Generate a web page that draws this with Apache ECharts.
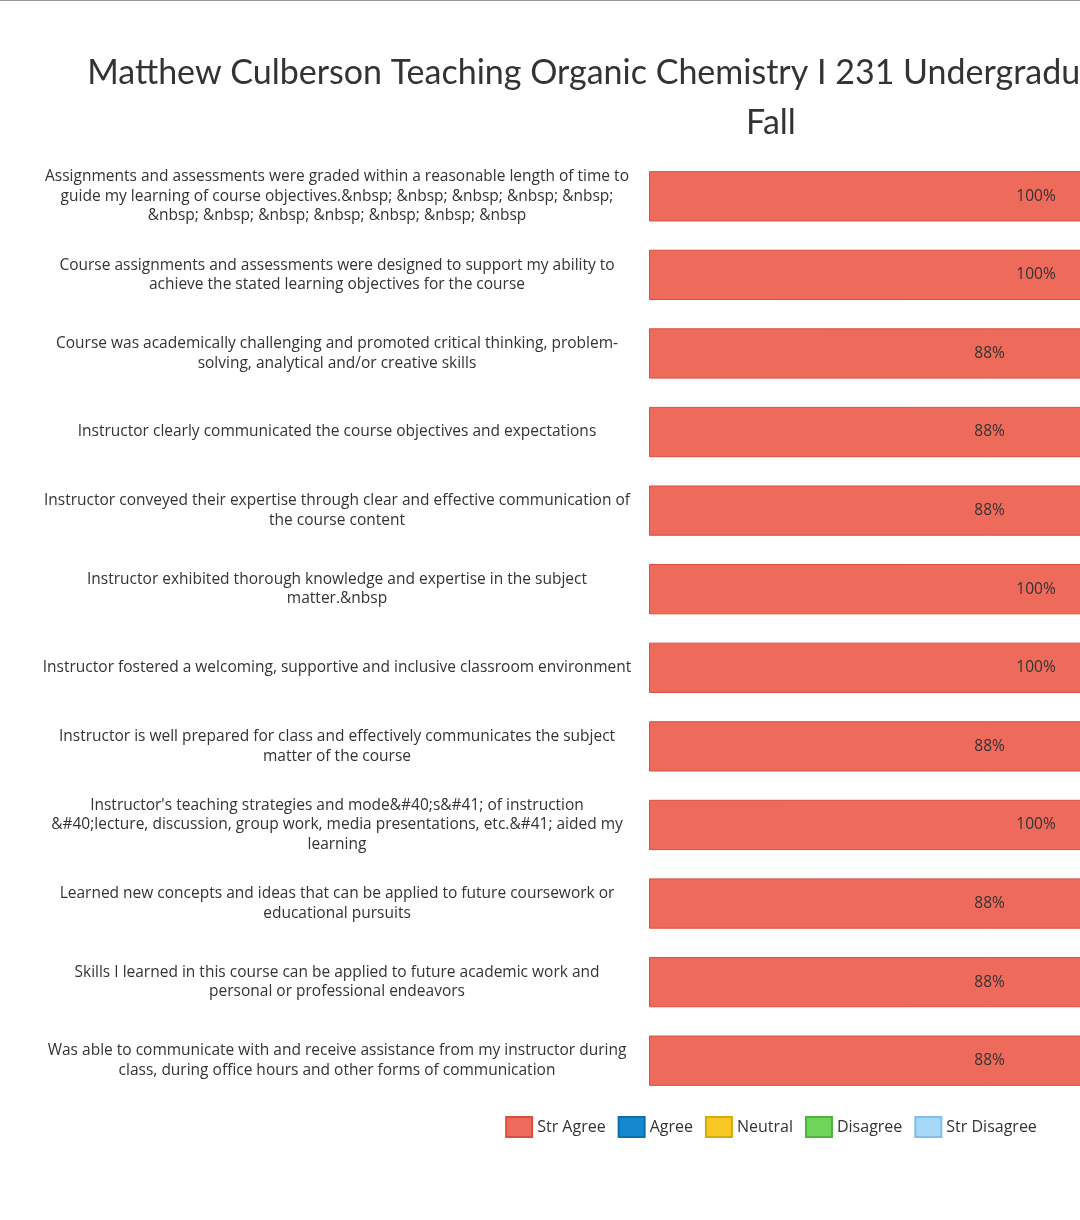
<!DOCTYPE html>
<html>
<head>
<meta charset="utf-8">
<title>Course Evaluation</title>
<script src="https://cdn.jsdelivr.net/npm/echarts@6/dist/echarts.min.js"></script>
<style>
  html, body { margin: 0; padding: 0; overflow: hidden; background: #fff; }
  #main { width: 1542px; height: 1220px; border-top: 1px solid #999; }
</style>
</head>
<body>
<div id="main"></div>
<script type="text/javascript">
var questions = [
  'Assignments and assessments were graded within a reasonable length of time to\nguide my learning of course objectives.&nbsp; &nbsp; &nbsp; &nbsp; &nbsp;\n&nbsp; &nbsp; &nbsp; &nbsp; &nbsp; &nbsp; &nbsp',
  'Course assignments and assessments were designed to support my ability to\nachieve the stated learning objectives for the course',
  'Course was academically challenging and promoted critical thinking, problem-\nsolving, analytical and/or creative skills',
  'Instructor clearly communicated the course objectives and expectations',
  'Instructor conveyed their expertise through clear and effective communication of\nthe course content',
  'Instructor exhibited thorough knowledge and expertise in the subject\nmatter.&nbsp',
  'Instructor fostered a welcoming, supportive and inclusive classroom environment',
  'Instructor is well prepared for class and effectively communicates the subject\nmatter of the course',
  'Instructor\'s teaching strategies and mode&#40;s&#41; of instruction\n&#40;lecture, discussion, group work, media presentations, etc.&#41; aided my\nlearning',
  'Learned new concepts and ideas that can be applied to future coursework or\neducational pursuits',
  'Skills I learned in this course can be applied to future academic work and\npersonal or professional endeavors',
  'Was able to communicate with and receive assistance from my instructor during\nclass, during office hours and other forms of communication'
];
var strAgree    = [100, 100, 88, 88, 88, 100, 100, 88, 100, 88, 88, 88];
var agree       = [0, 0, 12, 12, 12, 0, 0, 12, 0, 12, 12, 12];
var neutral     = [0, 0, 0, 0, 0, 0, 0, 0, 0, 0, 0, 0];
var disagree    = [0, 0, 0, 0, 0, 0, 0, 0, 0, 0, 0, 0];
var strDisagree = [0, 0, 0, 0, 0, 0, 0, 0, 0, 0, 0, 0];

var names = ['Str Agree', 'Agree', 'Neutral', 'Disagree', 'Str Disagree'];
var colors = ['#ee6a5b', '#1589d0', '#f7c823', '#6fd45a', '#a6d8f7'];
var borders = ['#d9503f', '#0f6fab', '#d9a90d', '#4fb23b', '#7fbfe8'];
var values = [strAgree, agree, neutral, disagree, strDisagree];

var myChart = echarts.init(document.getElementById('main'));
myChart.setOption({
  animation: false,
  color: colors,
  textStyle: { fontFamily: 'Open Sans, DejaVu Sans, sans-serif' },
  title: {
    text: 'Matthew Culberson Teaching Organic Chemistry I 231 Undergraduate Lecture Section 2023\nFall',
    left: 'center',
    top: 42,
    textStyle: { fontSize: 34, fontWeight: 'normal', color: '#333', lineHeight: 50, fontFamily: 'Lato, sans-serif' }
  },
  legend: {
    data: names,
    bottom: 78,
    left: 'center',
    icon: 'rect',
    itemWidth: 26,
    itemHeight: 20,
    itemGap: 12,
    textStyle: { fontSize: 16, color: '#333' }
  },
  grid: { left: 649, right: 119, top: 156, bottom: 121 },
  xAxis: { type: 'value', min: 0, max: 100, show: false },
  yAxis: {
    type: 'category',
    inverse: true,
    data: questions,
    axisLine: { show: false },
    axisTick: { show: false },
    axisLabel: { fontSize: 15.5, color: '#333', align: 'center', margin: 312, lineHeight: 19.5 }
  },
  series: names.map(function (n, i) {
    return {
      name: n,
      type: 'bar',
      stack: 'total',
      barWidth: '64%',
      data: values[i],
      itemStyle: { color: colors[i], borderColor: borders[i], borderWidth: 1 },
      label: {
        show: true,
        fontSize: 15.5,
        color: '#333',
        formatter: function (p) { return p.value > 0 ? p.value + '%' : ''; }
      }
    };
  })
});
</script>
</body>
</html>
